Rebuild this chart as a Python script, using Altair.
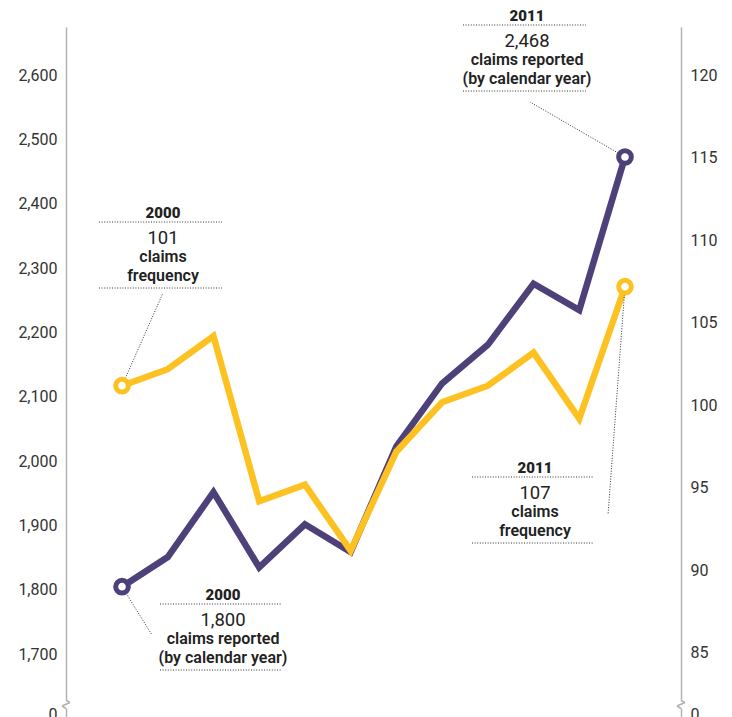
import altair as alt
import pandas as pd

# ---------------- data ----------------
years = [2000, 2001, 2002, 2003, 2004, 2005, 2006, 2007, 2008, 2009, 2010, 2011]
claims_reported = [1800, 1846, 1947, 1830, 1897, 1854, 2018, 2116, 2176, 2271, 2230, 2468]
claims_frequency = [101, 102, 104, 94, 95, 91, 97, 100, 101, 103, 99, 107]
left_ticks = [1700, 1800, 1900, 2000, 2100, 2200, 2300, 2400, 2500, 2600]
right_ticks = [85, 90, 95, 100, 105, 110, 115, 120]

PURPLE = "#4e4079"
YELLOW = "#fdc221"
AXIS_GRAY = "#b2b2b2"
TEXT = "#222222"
FONT = "Roboto"

df = pd.DataFrame({"year": years, "reported": claims_reported, "frequency": claims_frequency})
ends = df[df["year"].isin([years[0], years[-1]])]

# plot origin on the page
X0, Y0 = 66, 27
W, H = 615, 690

x_scale = alt.Scale(domain=[1998.775, 2012.225], nice=False, zero=False)
yl_scale = alt.Scale(domain=[1597.4, 2670.1], nice=False, zero=False)
yr_scale = alt.Scale(domain=[80.92, 122.74], nice=False, zero=False)

LEFT_ZERO = 1606.7
RIGHT_ZERO = 81.28

axis_common = dict(
    ticks=False, grid=False, domain=True, domainColor=AXIS_GRAY, domainWidth=1.5,
    labelFont=FONT, labelFontSize=16, labelColor="#333333",
    labelPadding=9, labelOffset=3, title=None,
)
left_axis = alt.Axis(
    orient="left", values=[LEFT_ZERO] + left_ticks,
    labelExpr="datum.value < 1650 ? '0' : format(datum.value, ',')", **axis_common)
right_axis = alt.Axis(
    orient="right", values=[RIGHT_ZERO] + right_ticks,
    labelExpr="datum.value < 83 ? '0' : format(datum.value, ',')", **axis_common)

X = alt.X("year:Q", scale=x_scale, axis=None)

ONE = alt.Data(values=[{"k": 0}])


def txt(s, px, py, size, weight):
    return alt.Chart(ONE).mark_text(
        text=s, font=FONT, fontSize=size, fontWeight=weight, color=TEXT,
        align="center", baseline="middle",
    ).encode(x=alt.value(px - X0), y=alt.value(py - Y0))


def dots(x1, y1, x2, y2):
    return alt.Chart(ONE).mark_rule(
        color="#333333", strokeWidth=1, strokeDash=[1, 1.6],
    ).encode(x=alt.value(x1 - X0), y=alt.value(y1 - Y0),
             x2=alt.value(x2 - X0), y2=alt.value(y2 - Y0))


def annotation(cx, ytop, year_label, number, lines, x1, x2):
    layers = [txt(year_label, cx, ytop, 15, 900),
              dots(x1, ytop + 9, x2, ytop + 9),
              txt(number, cx, ytop + 25, 18.5, 400)]
    y = ytop + 44
    for ln in lines:
        layers.append(txt(ln, cx, y, 16, 600))
        y += 18.5
    layers.append(dots(x1, y - 6, x2, y - 6))
    return layers


def leader(data, field, scale, px, py):
    return alt.Chart(data).mark_rule(
        color="#333333", strokeWidth=1, strokeDash=[1, 1.6],
    ).encode(
        x=X, y=alt.Y(f"{field}:Q", scale=scale, axis=None),
        x2=alt.value(px - X0), y2=alt.value(py - Y0),
    )


def ring(field, scale, color):
    return alt.Chart(ends).mark_point(
        shape="circle", size=160, filled=False, fill="white", fillOpacity=1,
        stroke=color, strokeWidth=5, opacity=1,
    ).encode(x=X, y=alt.Y(f"{field}:Q", scale=scale, axis=None))


# ---------------- purple: claims reported (left axis) ----------------
p_line = alt.Chart(df).mark_line(color=PURPLE, strokeWidth=6.5, strokeJoin="miter").encode(
    x=X, y=alt.Y("reported:Q", scale=yl_scale, axis=left_axis))
# ---------------- yellow: claims frequency (right axis) ----------------
y_line = alt.Chart(df).mark_line(color=YELLOW, strokeWidth=6.5, strokeJoin="miter").encode(
    x=X, y=alt.Y("frequency:Q", scale=yr_scale, axis=right_axis))

marks = [
    p_line,
    leader(df[df.year == 2011], "reported", yl_scale, 530, 102),
    leader(df[df.year == 2000], "reported", yl_scale, 152, 635),
    ring("reported", yl_scale, PURPLE),
    y_line,
    leader(df[df.year == 2000], "frequency", yr_scale, 163, 293),
    leader(df[df.year == 2011], "frequency", yr_scale, 608, 515),
    ring("frequency", yr_scale, YELLOW),
]

# ---------------- annotations ----------------
ann = []
ann += annotation(527, 16, "2011", "2,468", ["claims reported", "(by calendar year)"], 463, 586)
ann += annotation(163, 213, "2000", "101", ["claims", "frequency"], 99, 222)
ann += annotation(223, 595, "2000", "1,800", ["claims reported", "(by calendar year)"], 160, 282)
ann += annotation(535, 468, "2011", "107", ["claims", "frequency"], 472, 594)


# ---------------- axis breaks ----------------
def cover(x1, x2, y1, y2):
    return alt.Chart(ONE).mark_rect(color="white").encode(
        x=alt.value(x1 - X0), x2=alt.value(x2 - X0),
        y=alt.value(y1 - Y0), y2=alt.value(y2 - Y0))


def seg(x1, y1, x2, y2):
    return alt.Chart(ONE).mark_rule(color=AXIS_GRAY, strokeWidth=1.5).encode(
        x=alt.value(x1 - X0), y=alt.value(y1 - Y0),
        x2=alt.value(x2 - X0), y2=alt.value(y2 - Y0))


breaks = []
for ax in (66, 681):
    breaks += [cover(ax - 3, ax + 3, 700.5, 708.5),
               seg(ax, 700.5, ax + 4, 702.5),
               seg(ax + 4, 702.5, ax - 4, 706),
               seg(ax - 4, 706, ax, 708.5)]

chart = alt.layer(*marks, *breaks, *ann).resolve_scale(
    y="independent"
).properties(
    width=W, height=H,
    autosize=alt.AutoSizeParams(type="none"),
    padding={"left": X0, "right": 732 - X0 - W, "top": Y0, "bottom": 0},
    background="white",
).configure_view(stroke=None)

chart.save("out.html", embed_options={"renderer": "svg", "actions": False})
